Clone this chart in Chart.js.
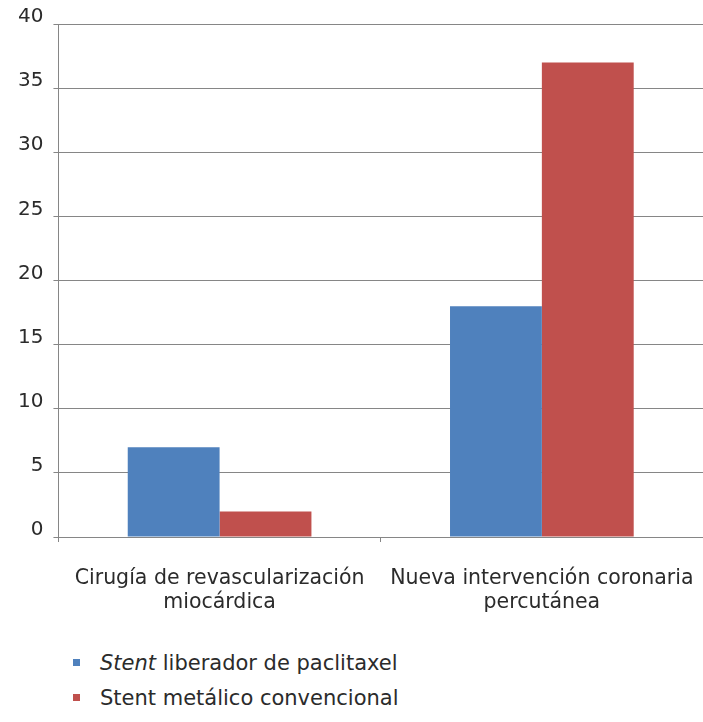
<!DOCTYPE html>
<html>
<head>
<meta charset="utf-8">
<script src="https://cdn.jsdelivr.net/npm/chart.js@4"></script>
<style>
  html, body { margin: 0; padding: 0; background: #fff; }
  #wrap { position: relative; width: 703px; height: 722px; }
  #c { position: absolute; left: 0; top: 0; }
  #legend { position: absolute; left: 73px; top: 645px; font-family: "DejaVu Sans", Verdana, sans-serif; font-size: 21px; color: #2b2b2b; }
  .item { height: 35px; line-height: 26px; display: flex; align-items: center; }
  .sw { width: 7px; height: 7px; margin-right: 20px; display: inline-block; }
</style>
</head>
<body>
<div id="wrap">
  <canvas id="c" width="703" height="640"></canvas>
  <div id="legend"></div>
</div>
<script>
const categories = [["Cirugía de revascularización", "miocárdica"], ["Nueva intervención coronaria", "percutánea"]];
const seriesNames = ["Stent liberador de paclitaxel", "Stent metálico convencional"];
const paclitaxel = [7, 18];
const convencional = [2, 37];
const colors = ["#4F81BD", "#C0504D"];

const ctx = document.getElementById('c');
new Chart(ctx, {
  type: 'bar',
  data: {
    labels: categories,
    datasets: [
      { label: seriesNames[0], data: paclitaxel, backgroundColor: colors[0], categoryPercentage: 0.57, barPercentage: 1.0 },
      { label: seriesNames[1], data: convencional, backgroundColor: colors[1], categoryPercentage: 0.57, barPercentage: 1.0 }
    ]
  },
  options: {
    responsive: false,
    animation: false,
    devicePixelRatio: 1,
    layout: { padding: { top: 24, right: 0, bottom: 0, left: 8 } },
    plugins: { legend: { display: false }, tooltip: { enabled: false } },
    scales: {
      x: {
        afterFit: (scale) => { scale.paddingLeft = 0; scale.paddingRight = 0; },
        grid: { drawOnChartArea: false, drawTicks: true, tickLength: 5, color: '#868686', offset: true },
        border: { color: '#868686', width: 1 },
        ticks: { color: '#2b2b2b', font: { family: 'DejaVu Sans', size: 20.5, lineHeight: 1.17 }, padding: 25, maxRotation: 0, autoSkip: false }
      },
      y: {
        min: 0, max: 40,
        grid: { color: '#868686', tickLength: 5, lineWidth: 1 },
        border: { color: '#868686', width: 1 },
        ticks: { stepSize: 5, color: '#2b2b2b', font: { family: 'DejaVu Sans', size: 20 }, padding: 10, labelOffset: -7 }
      }
    }
  }
});

const legend = document.getElementById('legend');
const legendHtml = [
  '<i>Stent</i> liberador de paclitaxel',
  'Stent metálico convencional'
];
legendHtml.forEach((h, i) => {
  const d = document.createElement('div');
  d.className = 'item';
  d.innerHTML = '<span class="sw" style="background:' + colors[i] + '"></span><span>' + h + '</span>';
  legend.appendChild(d);
});
</script>
</body>
</html>
